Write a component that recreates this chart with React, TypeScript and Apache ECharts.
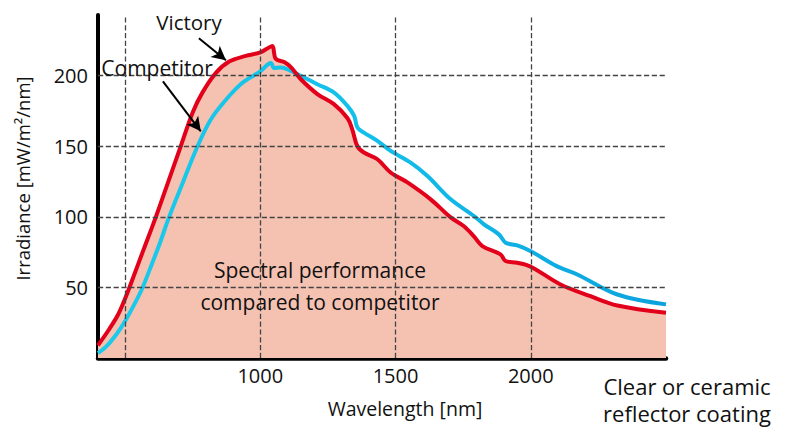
import React, { useEffect, useRef } from "react";
import * as echarts from "echarts";

const victory: [number, number][] = [
  [400, 9], [440, 20], [475, 31], [500, 42], [530, 57], [565, 75], [614, 100],
  [660, 125], [706, 150], [750, 174], [786, 188], [836, 202], [885, 210], [946, 214],
  [1000, 216.5], [1032, 220], [1045, 221], [1057, 212], [1090, 209.5], [1113, 206],
  [1150, 197.5], [1211, 187], [1271, 180], [1322, 170], [1340, 162], [1359, 150],
  [1383, 145.6], [1433, 140.8], [1482, 131.4], [1544, 124.4], [1630, 112.4],
  [1704, 99.6], [1752, 93.5], [1789, 86.4], [1821, 79.3], [1888, 73.4], [1907, 68.7],
  [1950, 67.5], [2000, 64.7], [2110, 52.1], [2221, 43.8], [2320, 37.2], [2500, 32],
];

const competitor: [number, number][] = [
  [400, 3.5], [430, 8], [469, 17], [500, 26], [537, 39], [565, 50], [600, 67],
  [630, 82], [663, 100], [713, 124], [768, 150], [817, 169], [873, 183], [934, 195],
  [1000, 203], [1039, 209], [1051, 205.5], [1076, 205.8], [1113, 203.4], [1150, 199.9],
  [1211, 194], [1273, 188], [1322, 178.6], [1347, 171.5], [1359, 163.3], [1383, 159.7],
  [1433, 153.8], [1482, 146.7], [1556, 138.4], [1618, 128.9], [1704, 112.4],
  [1790, 100.6], [1827, 94.7], [1882, 87.6], [1907, 81.7], [1950, 79.8], [2000, 75.7],
  [2096, 65.1], [2172, 59.2], [2320, 45], [2500, 38],
];

const xGridValues = [500, 1000, 1500, 2000];
const yGridValues = [50, 100, 150, 200];
const xLabelValues = [1000, 1500, 2000];

const victoryArrow: [number, number][] = [[773, 226.6], [873, 210.9]];
const competitorArrow: [number, number][] = [[640, 196], [780, 160.6]];

const FONT = "Open Sans";

export default function App() {
  const ref = useRef<HTMLDivElement>(null);
  useEffect(() => {
    if (!ref.current) return;
    const chart = echarts.init(ref.current, null, { renderer: "svg" });
    const gridLine = {
      type: "dashed" as const,
      color: "#444",
      width: 1.3,
    };
    const txt = (text: string, x: number, y: number, size: number) => ({
      type: "text",
      x,
      y,
      z: 10,
      style: {
        text,
        fontFamily: FONT,
        fontSize: size,
        fill: "#111",
        align: "center",
        verticalAlign: "middle",
      },
    });
    const SMOOTH = 0.35;
    chart.setOption({
      animation: false,
      backgroundColor: "#fff",
      grid: { left: 98, right: 121, top: 15, bottom: 71 },
      xAxis: {
        type: "value",
        min: 400,
        max: 2500,
        interval: 100,
        axisLine: { show: true, onZero: false, lineStyle: { color: "#000", width: 4.5 } },
        axisTick: { show: false },
        splitLine: { show: false },
        axisLabel: {
          fontFamily: FONT,
          fontSize: 20,
          color: "#111",
          margin: 7,
          showMinLabel: false,
          showMaxLabel: false,
          formatter: (v: number) => (xLabelValues.includes(v) ? String(v) : ""),
        },
      },
      yAxis: {
        type: "value",
        min: 0,
        max: 243,
        interval: 50,
        name: "Irradiance [mW/m²/nm]",
        nameLocation: "middle",
        nameGap: 66,
        nameTextStyle: { fontFamily: FONT, fontSize: 18.5, color: "#111", padding: [0, 0, 0, 16] },
        axisLine: { show: true, lineStyle: { color: "#000", width: 4 } },
        axisTick: { show: false },
        splitLine: { show: false },
        axisLabel: {
          fontFamily: FONT,
          fontSize: 20,
          color: "#111",
          margin: 10,
          showMaxLabel: false,
          formatter: (v: number) => (yGridValues.includes(v) ? String(v) : ""),
        },
      },
      series: [
        {
          name: "VictoryFill",
          type: "line",
          data: victory,
          smooth: SMOOTH,
          symbol: "none",
          z: 1,
          lineStyle: { width: 0, opacity: 0 },
          areaStyle: { color: "#f5c2b2", opacity: 1 },
        },
        {
          name: "Grid",
          type: "line",
          data: [],
          z: 2,
          markLine: {
            silent: true,
            symbol: "none",
            label: { show: false },
            lineStyle: gridLine,
            data: [
              ...xGridValues.map((v) => ({ xAxis: v })),
              ...yGridValues.map((v) => ({ yAxis: v })),
            ],
          },
        },
        {
          name: "Victory",
          type: "line",
          data: victory,
          smooth: SMOOTH,
          symbol: "none",
          z: 4,
          lineStyle: { color: "#e2001a", width: 4 },
        },
        {
          name: "Competitor",
          type: "line",
          data: competitor,
          smooth: SMOOTH,
          symbol: "none",
          z: 3,
          lineStyle: {
            width: 4,
            color: new echarts.graphic.LinearGradient(0, 0, 1, 0, [
              { offset: 0, color: "#1ccbea" },
              { offset: 0.45, color: "#13c0ea" },
              { offset: 1, color: "#0ba2de" },
            ]),
          },
        },
        {
          name: "Arrows",
          type: "line",
          data: [],
          z: 5,
          markLine: {
            silent: true,
            symbol: ["none", "arrow"],
            symbolSize: [11, 14],
            label: { show: false },
            lineStyle: { type: "solid", color: "#000", width: 2 },
            data: [
              [{ coord: victoryArrow[0] }, { coord: victoryArrow[1] }],
              [{ coord: competitorArrow[0] }, { coord: competitorArrow[1] }],
            ],
          },
        },
      ],
      graphic: [
        txt("Victory", 189, 22, 20.5),
        txt("Competitor", 157, 68, 21),
        txt("Spectral performance", 320, 270, 21),
        txt("compared to competitor", 320, 302, 21),
        txt("Wavelength [nm]", 405, 408, 19.5),
        txt("Clear or ceramic", 687, 386, 22),
        txt("reflector coating", 687, 413, 22),
      ],
    });
    return () => chart.dispose();
  }, []);
  return (
    <div
      ref={ref}
      style={{ position: "absolute", left: 0, top: 0, width: 787, height: 429 }}
    />
  );
}
